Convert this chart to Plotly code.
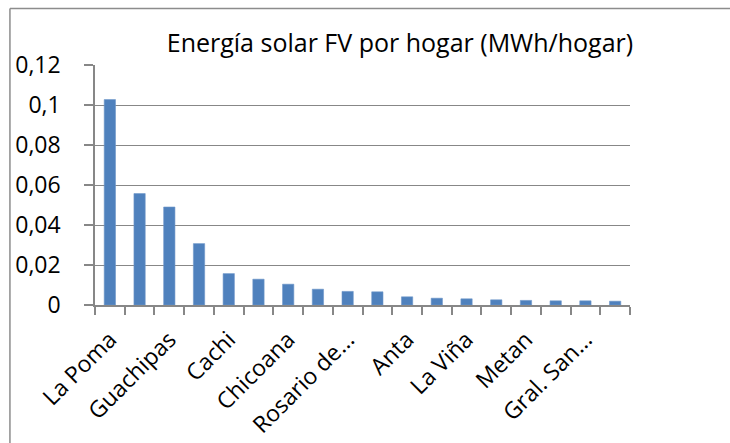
import plotly.graph_objects as go

categories = ["La Poma", "Molinos", "Guachipas", "San Carlos", "Cachi", "Iruya",
              "Chicoana", "Santa Victoria", "Rosario de Lerma", "La Caldera", "Anta",
              "Cafayate", "La Viña", "Rivadavia", "Metan", "Cerrillos",
              "Gral. San Martín", "Orán"]
values = [0.1027, 0.0557, 0.0490, 0.0307, 0.0157, 0.0129, 0.0104, 0.0079, 0.0068,
          0.0066, 0.0041, 0.0034, 0.0031, 0.0026, 0.0023, 0.0021, 0.0021, 0.0019]
tick_labels = ["La Poma", "", "Guachipas", "", "Cachi", "", "Chicoana", "",
               "Rosario de...", "", "Anta", "", "La Viña", "", "Metan", "",
               "Gral. San...", ""]
title_text = "Energía solar FV por hogar (MWh/hogar)"

GRAY = "#878787"
FONT = "Open Sans"

fig = go.Figure(go.Bar(x=categories, y=values, marker=dict(color="#4F81BD",
                line=dict(color="#6f97c9", width=0.6)), width=0.38))

fig.update_layout(
    width=730, height=443,
    margin=dict(l=95, r=100, t=65, b=137.5, autoexpand=False),
    paper_bgcolor="white", plot_bgcolor="white",
    separators=",.",
    font=dict(family=FONT, color="black", size=23),
    showlegend=False,
    title=dict(text=title_text, font=dict(family=FONT, size=25, color="black"),
               xref="paper", x=0.57, xanchor="center",
               yref="container", y=0.902, yanchor="middle"),
    xaxis=dict(type="category", tickmode="array", tickvals=categories,
               ticktext=tick_labels, tickson="boundaries", ticks="outside",
               ticklen=8, tickwidth=2, tickcolor=GRAY, showline=True,
               linecolor=GRAY, linewidth=2, tickangle=-45, showgrid=False,
               automargin=False, ticklabelstandoff=10,
               tickfont=dict(family=FONT, size=23)),
    yaxis=dict(range=[0, 0.12], dtick=0.02, tick0=0, ticks="outside", ticklen=9,
               tickwidth=1.5, tickcolor=GRAY, showline=True, linecolor=GRAY,
               linewidth=1.5, showgrid=True, gridcolor=GRAY, gridwidth=1.3,
               zeroline=False, ticklabelstandoff=19, automargin=False,
               tickfont=dict(family=FONT, size=23)),
)

# chart-area frame (only its top and left edges fall inside the picture)
fig.add_shape(type="line", xref="paper", yref="paper",
              x0=-0.159, x1=1.2, y0=1.235, y1=1.235,
              line=dict(color="#8c8c8c", width=1.5), layer="below")
fig.add_shape(type="line", xref="paper", yref="paper",
              x0=-0.159, x1=-0.159, y0=-0.6, y1=1.235,
              line=dict(color="#8c8c8c", width=1.5), layer="below")

fig.write_html("out.html", config={"displayModeBar": False},
               post_script=("document.body.style.margin='0px';"
                            "document.body.style.overflow='hidden';"))
